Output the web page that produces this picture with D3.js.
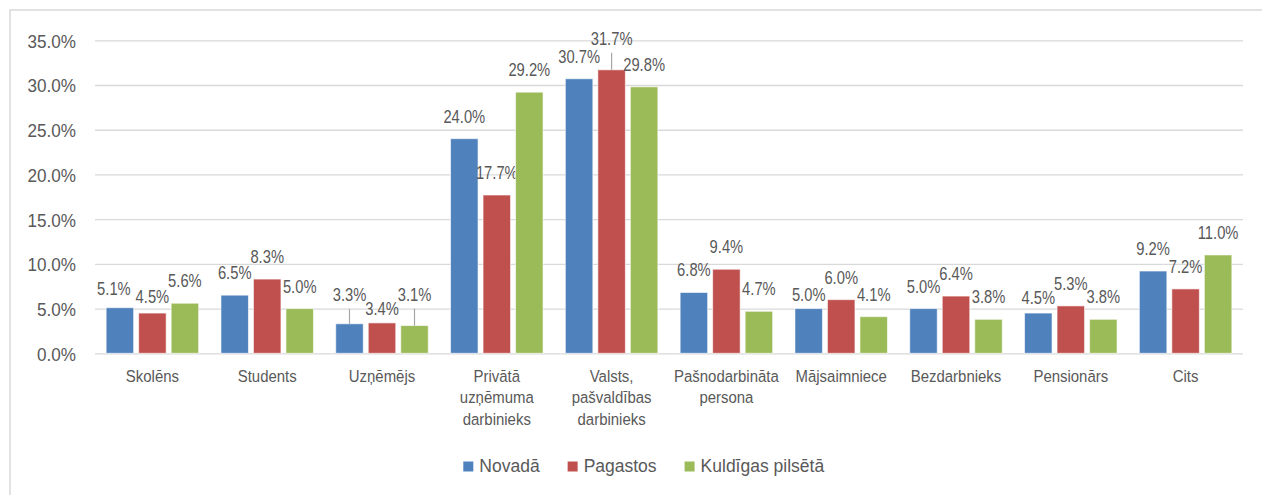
<!DOCTYPE html>
<html>
<head>
<meta charset="utf-8">
<script src="https://cdn.jsdelivr.net/npm/d3@7"></script>
<style>
body{margin:0;background:#fff;}
text{font-family:"Liberation Sans",Arial,sans-serif;fill:#595959;}
</style>
</head>
<body>
<div id="chart"></div>
<script>
// data (percent)
var categories = ["Skolēns","Students","Uzņēmējs","Privātā\nuzņēmuma\ndarbinieks","Valsts,\npašvaldības\ndarbinieks","Pašnodarbināta\npersona","Mājsaimniece","Bezdarbnieks","Pensionārs","Cits"];
var series = ["Novadā","Pagastos","Kuldīgas pilsētā"];
var novada   = [5.1, 6.5, 3.3, 24.0, 30.7, 6.8, 5.0, 5.0, 4.5, 9.2];
var pagastos = [4.5, 8.3, 3.4, 17.7, 31.7, 9.4, 6.0, 6.4, 5.3, 7.2];
var kuldiga  = [5.6, 5.0, 3.1, 29.2, 29.8, 4.7, 4.1, 3.8, 3.8, 11.0];
var yTicks = [0, 5, 10, 15, 20, 25, 30, 35];

// labels that were moved by hand in the original ("category-series")
var nudges = {"0-0":{dx:-6,dy:3}, "0-1":{dx:0,dy:6}, "2-0":{dx:0,dy:-7}, "2-1":{dx:0,dy:8},
              "2-2":{dx:0,dy:-9}, "4-1":{dx:0,dy:-9}, "6-0":{dx:0,dy:8}, "8-0":{dx:0,dy:7}};

var colors = ["#4f81bd","#c0504d","#9bbb59"];
var data = [novada, pagastos, kuldiga];
var fmt = function(v){ return v.toFixed(1) + "%"; };

var svg = d3.select("#chart").append("svg").attr("width",1262).attr("height",495);

// outer frame (runs off the right/bottom edge)
svg.append("rect").attr("x",10).attr("y",10).attr("width",1400).attr("height",600)
  .attr("fill","none").attr("stroke","#d9d9d9").attr("stroke-width",1.5);

var plotLeft = 95, plotRight = 1243, plotTop = 40.3, plotBottom = 353.3;

var x0 = d3.scaleBand().domain(d3.range(categories.length)).range([plotLeft,plotRight]);
var x1 = d3.scaleBand().domain(d3.range(series.length)).range([0,x0.bandwidth()])
  .paddingInner(0.154).paddingOuter(0.343);
var y = d3.scaleLinear().domain([0,35]).range([plotBottom,plotTop]);

// y axis + gridlines
svg.append("g").attr("transform","translate(" + plotLeft + ",0)")
  .call(d3.axisLeft(y).tickValues(yTicks).tickSize(-(plotRight-plotLeft)).tickPadding(19).tickFormat(fmt))
  .call(function(g){ g.select(".domain").remove(); })
  .call(function(g){ g.selectAll("line").attr("stroke","#d9d9d9").attr("stroke-width",1.3); })
  .call(function(g){ g.selectAll("text").attr("font-size",19).attr("dy","0.36em")
      .attr("x",-19/0.9).attr("transform","scale(0.9,1)"); });

var groups = svg.selectAll("g.cat").data(categories).enter().append("g")
  .attr("class","cat")
  .attr("transform",function(d,i){ return "translate(" + x0(i) + ",0)"; });

var bars = groups.selectAll("g.bar")
  .data(function(d,i){ return data.map(function(s,j){ return {i:i, j:j, v:s[i]}; }); })
  .enter().append("g").attr("class","bar");

bars.append("rect")
  .attr("x",function(d){ return x1(d.j); })
  .attr("y",function(d){ return y(d.v); })
  .attr("width",x1.bandwidth())
  .attr("height",function(d){ return y(0) - y(d.v); })
  .attr("fill",function(d){ return colors[d.j]; })
  .attr("stroke","#fff").attr("stroke-opacity",0.6).attr("stroke-width",1);

// data labels
bars.each(function(d){
  var n = nudges[d.i + "-" + d.j] || {dx:0,dy:0};
  var cx = x1(d.j) + x1.bandwidth()/2;
  var by = y(d.v) - 16 + n.dy;
  var g = d3.select(this);
  if (n.dy < -5) {
    g.append("line").attr("x1",cx).attr("x2",cx).attr("y1",y(d.v)).attr("y2",by + 8)
      .attr("stroke","#a6a6a6").attr("stroke-width",1.2);
  }
  g.append("text")
    .attr("transform","translate(" + (cx + n.dx) + "," + by + ") scale(0.82,1)")
    .attr("text-anchor","middle").attr("font-size",18)
    .text(fmt(d.v));
});

// category labels
groups.append("text")
  .attr("transform",function(){ return "translate(" + x0.bandwidth()/2 + ",382) scale(0.88,1)"; })
  .attr("text-anchor","middle").attr("font-size",17)
  .selectAll("tspan").data(function(d){ return d.split("\n"); }).enter().append("tspan")
  .attr("x",0).attr("dy",function(d,k){ return k ? 21.5 : 0; })
  .text(function(d){ return d; });

// legend
var lx = 463.3;
series.forEach(function(s,j){
  svg.append("rect").attr("x",lx).attr("y",461.5).attr("width",10).attr("height",10).attr("fill",colors[j]);
  var t = svg.append("text").attr("x",lx + 16).attr("y",472.3).attr("font-size",17.5).text(s);
  lx += 16 + t.node().getComputedTextLength() + 28;
});
</script>
</body>
</html>
